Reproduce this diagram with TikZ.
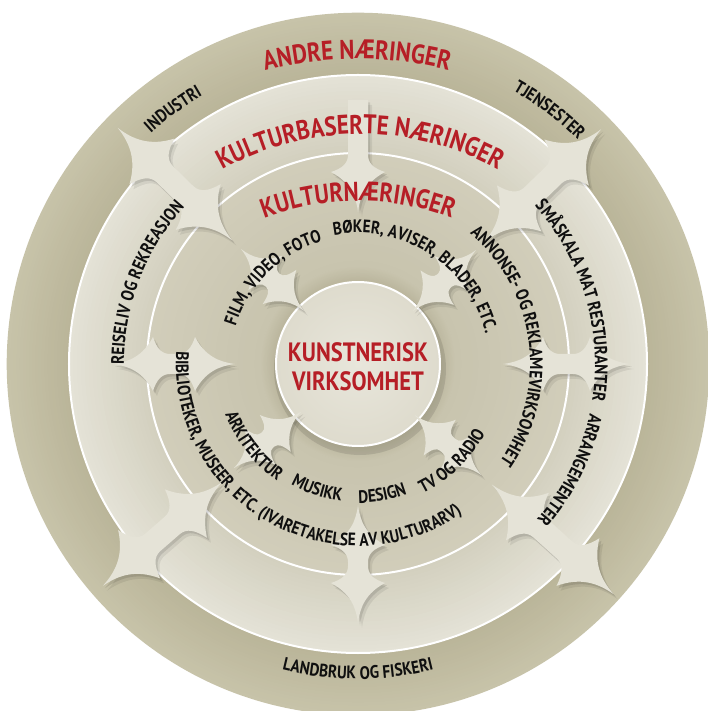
\documentclass[tikz,border=0pt]{standalone}
\usepackage{fontspec}
\setmainfont{PT Sans}
\newfontfamily\cf[FakeStretch=0.85]{PT Sans}
\usetikzlibrary{decorations.text}
\definecolor{redtxt}{RGB}{182,30,38}
\definecolor{blk}{RGB}{15,15,15}
\definecolor{arrowcol}{RGB}{229,227,215}
\definecolor{c0}{RGB}{232,230,219}
\definecolor{c1}{RGB}{222,219,205}
\definecolor{c2}{RGB}{186,181,156}
\definecolor{c3}{RGB}{200,196,174}
\definecolor{c4}{RGB}{209,205,186}
\definecolor{c5}{RGB}{211,208,191}
\definecolor{c6}{RGB}{228,226,214}
\definecolor{c7}{RGB}{186,181,153}
\definecolor{c8}{RGB}{199,195,169}
% radial gradient band: r1 r2 colour-at-r1 colour-at-r2
\newcommand\band[4]{%
 \pgfmathsetmacro\bw{(#2-#1)/20}%
 \foreach \i in {0,...,19}{%
  \pgfmathsetmacro\rr{#1+(\i+0.5)*\bw}%
  \pgfmathtruncatemacro\pc{100-100*\i/19}%
  \draw[line width=\bw pt+0.6pt, draw=#3!\pc!#4] (0,0) circle[radius=\rr];}}
% arrow head parameters: length to barb, barb half width, length to shaft join, shaft half width
\newcommand\setarrow[4]{\def\hl{#1}\def\hw{#2}\def\hj{#3}\def\sw{#4}}
\newcommand\DBL[2]{(#2,0) .. controls ({#2-0.4*\hl},{0.07*\hw}) and ({#2-0.75*\hl},{0.3*\hw}) .. ({#2-\hl},\hw) .. controls ({#2-\hl-0.2*(\hj-\hl)},{0.6*\hw}) and ({#2-\hl-0.5*(\hj-\hl)},\sw) .. ({#2-\hj},\sw) -- ({#1+\hj},\sw) .. controls ({#1+\hl+0.5*(\hj-\hl)},\sw) and ({#1+\hl+0.2*(\hj-\hl)},{0.6*\hw}) .. ({#1+\hl},\hw) .. controls ({#1+0.75*\hl},{0.3*\hw}) and ({#1+0.4*\hl},{0.07*\hw}) .. (#1,0) .. controls ({#1+0.4*\hl},{-0.07*\hw}) and ({#1+0.75*\hl},{-0.3*\hw}) .. ({#1+\hl},-\hw) .. controls ({#1+\hl+0.2*(\hj-\hl)},{-0.6*\hw}) and ({#1+\hl+0.5*(\hj-\hl)},-\sw) .. ({#1+\hj},-\sw) -- ({#2-\hj},-\sw) .. controls ({#2-\hl-0.5*(\hj-\hl)},-\sw) and ({#2-\hl-0.2*(\hj-\hl)},{-0.6*\hw}) .. ({#2-\hl},-\hw) .. controls ({#2-0.75*\hl},{-0.3*\hw}) and ({#2-0.4*\hl},{-0.07*\hw}) .. (#2,0) -- cycle}
\newcommand\SGL[2]{(#2,\sw) -- ({#1+\hj},\sw) .. controls ({#1+\hl+0.5*(\hj-\hl)},\sw) and ({#1+\hl+0.2*(\hj-\hl)},{0.6*\hw}) .. ({#1+\hl},\hw) .. controls ({#1+0.75*\hl},{0.3*\hw}) and ({#1+0.4*\hl},{0.07*\hw}) .. (#1,0) .. controls ({#1+0.4*\hl},{-0.07*\hw}) and ({#1+0.75*\hl},{-0.3*\hw}) .. ({#1+\hl},-\hw) .. controls ({#1+\hl+0.2*(\hj-\hl)},{-0.6*\hw}) and ({#1+\hl+0.5*(\hj-\hl)},-\sw) .. ({#1+\hj},-\sw) -- (#2,-\sw) -- cycle}
\newcommand\arr[4]{%
 \begin{scope}[shift={(4,-5)}]\begin{scope}[rotate=#1]\fill[black,opacity=.07] #2{#3}{#4};\end{scope}\end{scope}
 \begin{scope}[shift={(2,-2.5)}]\begin{scope}[rotate=#1]\fill[black,opacity=.10] #2{#3}{#4};\end{scope}\end{scope}
 \begin{scope}[rotate=#1]\fill[arrowcol] #2{#3}{#4};\end{scope}}
\newcommand\arctext[5]{%
 \path[decorate, decoration={text along path, text={|#4|#5}, text align=center}] (#2:#1) arc[start angle=#2, end angle=#3, radius=#1];}
\newcommand\bl{\cf\bfseries\fontsize{18}{18}\selectfont\color{blk}}
\newcommand\rd[1]{\cf\bfseries\fontsize{#1}{#1}\selectfont\color{redtxt}}
\begin{document}
\begin{tikzpicture}[x=1pt,y=1pt]
\useasboundingbox (-358,-347) rectangle (350,364);
\fill[white] (-358,-347) rectangle (350,364);
% rings
\band{289}{351}{c7}{c8}
\band{211}{289}{c5}{c6}
\band{98}{211}{c3}{c4}
\band{82}{98}{c2}{c3}
\fill[black,opacity=.10] (2,-5) circle[radius=86];
\shade[inner color=c0, outer color=c1] (0,0) circle[radius=82];
\foreach \r in {82,211,289} \draw[white, line width=2] (0,0) circle[radius=\r];
% arrows
\setarrow{40}{27}{57}{10}
\arr{90}{\SGL}{152}{264}
\arr{270}{\DBL}{141}{259}
\arr{180}{\DBL}{123}{245}
\arr{0}{\DBL}{145}{272}
\setarrow{48}{32}{66}{11.5}
\arr{135.5}{\DBL}{176}{337}
\arr{44}{\DBL}{176}{338}
\arr{221}{\DBL}{180}{338}
\arr{318}{\DBL}{180}{344}
\setarrow{34}{24}{43}{9.5}
\arr{135.5}{\DBL}{76}{164}
\arr{44}{\DBL}{76}{164}
\arr{220}{\DBL}{74}{162}
\arr{318}{\DBL}{76}{166}
% red titles
\begin{scope}[shift={(-1,-73)}]
\arctext{378}{120}{60}{\rd{27}}{ANDRE NÆRINGER}
\end{scope}
\begin{scope}[shift={(2,-53)}]
\arctext{283}{135}{45}{\rd{27}}{KULTURBASERTE NÆRINGER}
\end{scope}
\begin{scope}[shift={(0,-100)}]
\arctext{263}{125}{55}{\rd{27}}{KULTURNÆRINGER}
\end{scope}
\node[font=\cf\bfseries\fontsize{26.5}{29}\selectfont, text=redtxt, align=center] (core) at (0,-2.5) {KUNSTNERISK\\VIRKSOMHET};
% black labels, reading clockwise (tops outward)
\arctext{128}{170}{99}{\bl}{FILM, VIDEO, FOTO}
\arctext{131}{117}{-3}{\bl}{BØKER, AVISER, BLADER, ETC.}
\arctext{172}{66}{-51}{\bl}{ANNONSE- OG REKLAMEVIRKSOMHET}
\arctext{234}{194}{124}{\bl}{REISELIV OG REKREASJON}
\arctext{237}{54}{-21}{\bl}{SMÅSKALA MAT RESTURANTER}
\arctext{237}{1.5}{-54.5}{\bl}{ARRANGEMENTER}
\arctext{310}{146}{106}{\bl}{INDUSTRI}
\arctext{314}{73}{33}{\bl}{TJENSESTER}
% black labels, reading counter-clockwise (tops inward)
\arctext{182}{165}{316}{\bl}{BIBLIOTEKER, MUSEER, ETC. (IVARETAKELSE AV KULTURARV)}
\arctext{142}{193}{243}{\bl}{ARKITEKTUR}
\arctext{138}{232}{272}{\bl}{MUSIKK}
\arctext{139}{260}{301}{\bl}{DESIGN}
\arctext{145}{289}{339}{\bl}{TV OG RADIO}
\arctext{315}{245}{295}{\bl}{LANDBRUK OG FISKERI}
\end{tikzpicture}
\end{document}
